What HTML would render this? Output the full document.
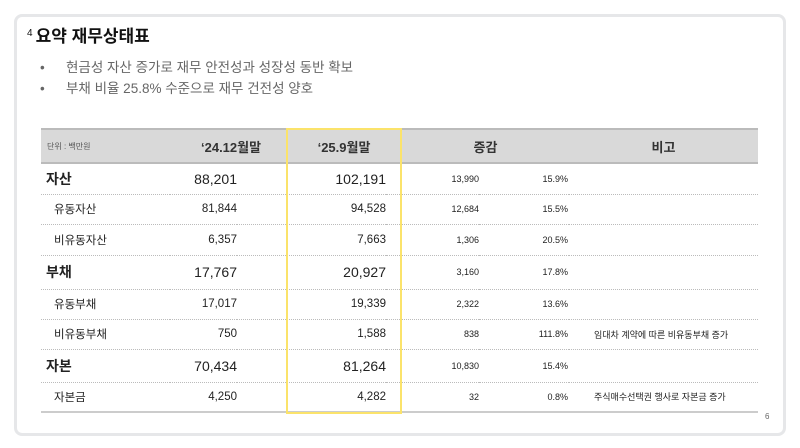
<!DOCTYPE html>
<html><head><meta charset="utf-8"><style>
body{margin:0;width:800px;height:448px;background:#fff;font-family:"Liberation Sans","Noto Sans CJK KR",sans-serif;overflow:hidden;position:relative}
.card{position:absolute;left:14px;top:14px;width:766px;height:416px;border:3px solid #e6e7e9;border-radius:8px;background:#fff}
.t{position:absolute;left:27px;top:22px;font-size:17px;font-weight:bold;color:#111}
.t sup{font-size:10px;font-weight:normal;vertical-align:6px;margin-right:3px}
.b{position:absolute;left:40px;font-size:13.5px;color:#666}
.b span{display:inline-block;width:26px}
table{position:absolute;left:41px;top:128px;width:717px;border-collapse:collapse;color:#222}
th{background:#d9d9d9;height:32px;font-size:13px;font-weight:bold;border-top:2px solid #bbb;border-bottom:2px solid #bbb;padding:0;color:#333}
td{border-bottom:1px dotted #bbb;padding:0;font-size:11.5px}
td.n{text-align:right}
tr.m td{font-size:14px}
tr.m td:first-child{font-weight:bold;padding-left:5px}
tr.s td:first-child{padding-left:13px}
tr:last-child td{border-bottom:2px solid #ccc}
.y{position:absolute;left:286px;top:128px;width:112px;height:282px;border:2px solid #fbe36b}
.pn{position:absolute;left:765px;top:412px;font-size:8px;color:#666}
</style></head><body>
<div class="card"></div>
<div class="t"><sup>4</sup>요약 재무상태표</div>
<div class="b" style="top:56px"><span>•</span>현금성 자산 증가로 재무 안전성과 성장성 동반 확보</div>
<div class="b" style="top:77px"><span>•</span>부채 비율 25.8% 수준으로 재무 건전성 양호</div>
<table>
<colgroup><col style="width:129px"><col style="width:67px"><col style="width:49px"><col style="width:100px"><col style="width:16px"><col style="width:77px"><col style="width:90px"><col style="width:189px"></colgroup>
<tr><th style="text-align:left;padding-left:6px;font-size:8px;font-weight:normal;color:#555">단위 : 백만원</th><th colspan="2" style="text-align:left;padding-left:31px">‘24.12월말</th><th colspan="2">‘25.9월말</th><th colspan="2">증감</th><th>비고</th></tr>
<tr class="m" style="height:31px"><td>자산</td><td class="n">88,201</td><td></td><td class="n">102,191</td><td></td><td class="n" style="font-size:9px">13,990</td><td class="n" style="font-size:9px;padding-right:1px">15.9%</td><td></td></tr>
<tr class="s" style="height:30px"><td>유동자산</td><td class="n">81,844</td><td></td><td class="n">94,528</td><td></td><td class="n" style="font-size:9px">12,684</td><td class="n" style="font-size:9px;padding-right:1px">15.5%</td><td></td></tr>
<tr class="s" style="height:31px"><td>비유동자산</td><td class="n">6,357</td><td></td><td class="n">7,663</td><td></td><td class="n" style="font-size:9px">1,306</td><td class="n" style="font-size:9px;padding-right:1px">20.5%</td><td></td></tr>
<tr class="m" style="height:34px"><td>부채</td><td class="n">17,767</td><td></td><td class="n">20,927</td><td></td><td class="n" style="font-size:9px">3,160</td><td class="n" style="font-size:9px;padding-right:1px">17.8%</td><td></td></tr>
<tr class="s" style="height:30px"><td>유동부채</td><td class="n">17,017</td><td></td><td class="n">19,339</td><td></td><td class="n" style="font-size:9px">2,322</td><td class="n" style="font-size:9px;padding-right:1px">13.6%</td><td></td></tr>
<tr class="s" style="height:30px"><td>비유동부채</td><td class="n">750</td><td></td><td class="n">1,588</td><td></td><td class="n" style="font-size:9px">838</td><td class="n" style="font-size:9px;padding-right:1px">111.8%</td><td style="font-size:9px;padding-left:25px">임대차 계약에 따른 비유동부채 증가</td></tr>
<tr class="m" style="height:33px"><td>자본</td><td class="n">70,434</td><td></td><td class="n">81,264</td><td></td><td class="n" style="font-size:9px">10,830</td><td class="n" style="font-size:9px;padding-right:1px">15.4%</td><td></td></tr>
<tr class="s" style="height:30px"><td>자본금</td><td class="n">4,250</td><td></td><td class="n">4,282</td><td></td><td class="n" style="font-size:9px">32</td><td class="n" style="font-size:9px;padding-right:1px">0.8%</td><td style="font-size:9px;padding-left:25px">주식매수선택권 행사로 자본금 증가</td></tr>
</table>
<div class="y"></div>
<div class="pn">6</div>
</body></html>
